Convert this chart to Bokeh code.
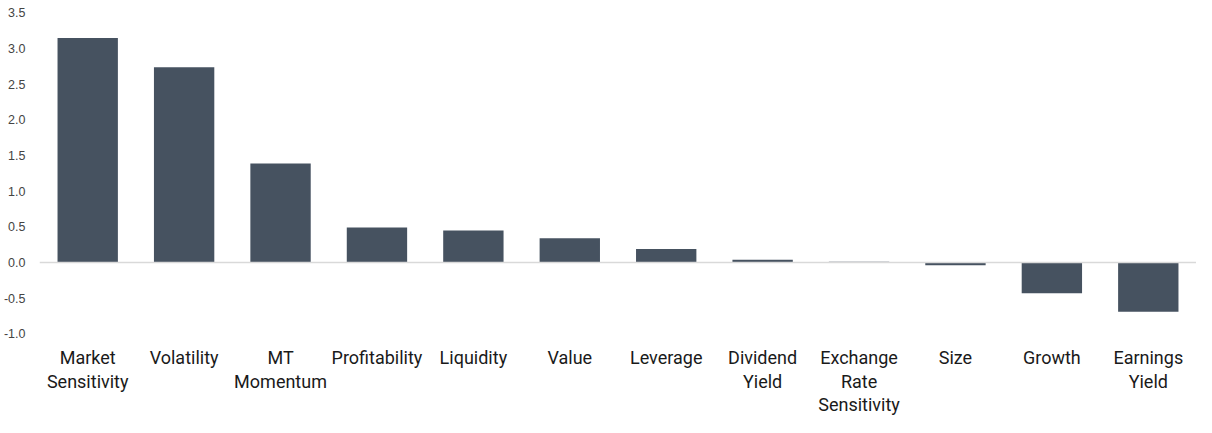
from bokeh.plotting import figure
from bokeh.models import FactorRange, Range1d, Span, FixedTicker, ColumnDataSource
from bokeh.core.properties import value
from bokeh.embed import file_html
from bokeh.resources import INLINE

categories = ["Market Sensitivity", "Volatility", "MT Momentum", "Profitability",
              "Liquidity", "Value", "Leverage", "Dividend Yield",
              "Exchange Rate Sensitivity", "Size", "Growth", "Earnings Yield"]
tick_labels = ["Market\nSensitivity", "Volatility", "MT\nMomentum", "Profitability",
               "Liquidity", "Value", "Leverage", "Dividend\nYield",
               "Exchange\nRate\nSensitivity", "Size", "Growth", "Earnings\nYield"]
values = [3.15, 2.74, 1.39, 0.49, 0.45, 0.34, 0.19, 0.04, 0.01, -0.04, -0.43, -0.69]
y_ticks = [-1.0, -0.5, 0.0, 0.5, 1.0, 1.5, 2.0, 2.5, 3.0, 3.5]

label_y = -1.19  # data position of the top of the category labels

p = figure(x_range=FactorRange(*categories, start=0, end=11.88, range_padding=0),
           y_range=Range1d(-2.174, 3.675),
           width=1196, height=417, output_backend="svg", toolbar_location=None,
           min_border_left=39, min_border_right=0, min_border_top=0, min_border_bottom=0)

p.vbar(x=categories, top=values, width=0.626, color="#465260", line_color=None)

p.add_layout(Span(location=0, dimension="width", line_color="#d9d9d9", line_width=1.5))

src = ColumnDataSource(dict(x=categories, y=[label_y] * len(categories), t=tick_labels))
p.text(x="x", y="y", text="t", source=src, text_align="center", text_baseline="top",
       text_font=value("Roboto"), text_font_size="18px", text_color="#1a1a1a",
       text_line_height=1.12)

p.outline_line_color = None
p.xgrid.grid_line_color = None
p.ygrid.grid_line_color = None
p.xaxis.visible = False

p.yaxis.ticker = FixedTicker(ticks=y_ticks)
p.yaxis.axis_line_color = None
p.yaxis.major_tick_line_color = None
p.yaxis.minor_tick_line_color = None
p.yaxis.major_label_standoff = 8
p.yaxis.major_label_text_font = "Liberation Sans"
p.yaxis.major_label_text_font_size = "12.5px"
p.yaxis.major_label_text_color = "#444444"
p.yaxis.major_label_overrides = {t: f"{t:.1f}" for t in y_ticks}

open("out.html", "w").write(file_html(p, INLINE))
